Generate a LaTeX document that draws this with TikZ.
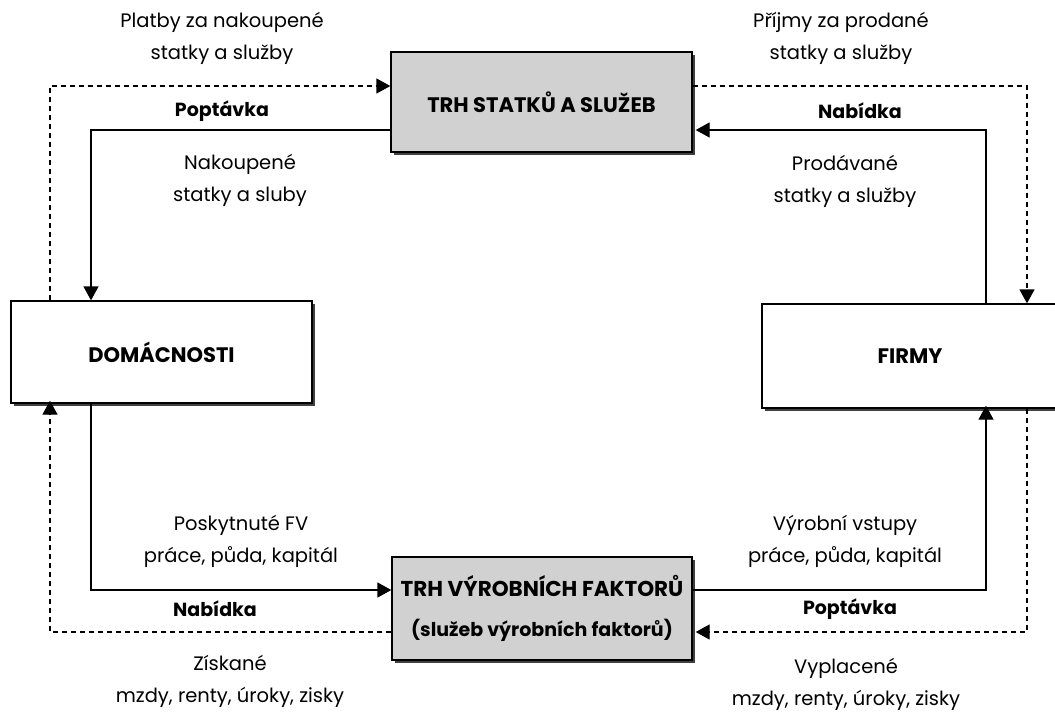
\documentclass[tikz,border=0pt]{standalone}
\usepackage{fontspec}
\setmainfont{Poppins}
\usetikzlibrary{arrows.meta,shadows,calc}
\begin{document}
\begin{tikzpicture}[x=1pt,y=-1pt,
  mbox/.style={draw=black, line width=1.3pt, inner sep=0pt, align=center,
    font=\bfseries\fontsize{21}{40}\selectfont,
    drop shadow={shadow xshift=3pt,shadow yshift=-3pt,fill=black!75,opacity=1}},
  flow/.style={line width=1.3pt, -{Triangle[length=14pt,width=15pt]}},
  money/.style={flow, dash pattern=on 5pt off 4pt},
  lbl/.style={align=center, inner sep=0pt, font=\fontsize{19.5}{32}\selectfont},
  blbl/.style={inner sep=0pt, font=\bfseries\fontsize{19}{22}\selectfont}]
\useasboundingbox (0,0) rectangle (1055,713);
\clip (0,0) rectangle (1055,713);
\fill[white] (0,0) rectangle (1055,713);

% boxes
\node[mbox, fill=black!18, minimum width=301pt, minimum height=100pt] (trhS) at (541.5,102) {TRH STATKŮ A SLUŽEB};
\node[mbox, fill=white, minimum width=301pt, minimum height=102pt] (dom) at (161.5,352) {DOMÁCNOSTI};
\node[mbox, fill=white, minimum width=296pt, minimum height=104pt] (firmy) at (910,356) {FIRMY};
\node[mbox, fill=black!18, minimum width=300pt, minimum height=103pt] (trhF) at (542,608.5) {{\fontsize{21.5}{40}\selectfont TRH VÝROBNÍCH FAKTORŮ}\\{\fontsize{19}{40}\selectfont (služeb výrobních faktorů)}};

% guide coordinates
\coordinate (xLd) at (50,0);
\coordinate (xLs) at (91,0);
\coordinate (xRs) at (986,0);
\coordinate (xRd) at (1027,0);
\coordinate (yTd) at (0,86);
\coordinate (yTs) at (0,130);
\coordinate (yBs) at (0,590);
\coordinate (yBd) at (0,632);

% connectors
\draw[money] (dom.north -| xLd) |- (trhS.west |- yTd);
\draw[flow] (trhS.west |- yTs) -| (dom.north -| xLs);
\draw[money] (trhS.east |- yTd) -| (firmy.north -| xRd);
\draw[flow] (firmy.north -| xRs) |- ([xshift=3pt]trhS.east |- yTs);
\draw[flow] (dom.south -| xLs) |- (trhF.west |- yBs);
\draw[money] (trhF.west |- yBd) -| ([yshift=3pt]dom.south -| xLd);
\draw[flow] (trhF.east |- yBs) -| ([yshift=3pt]firmy.south -| xRs);
\draw[money] (firmy.south -| xRd) |- ([xshift=3pt]trhF.east |- yBd);

% labels
\node[lbl] (l1) at (222,38) {Platby za nakoupené\\statky a služby};
\node[lbl] (l2) at (841,38) {Příjmy za prodané\\statky a služby};
\node[blbl] (l3) at (222,111) {Poptávka};
\node[blbl] (l4) at (860,111) {Nabídka};
\node[lbl] (l5) at (240,180) {Nakoupené\\statky a sluby};
\node[lbl] (l6) at (845,181) {Prodávané\\statky a služby};
\node[lbl] (l7) at (241,541) {Poskytnuté FV\\práce, půda, kapitál};
\node[lbl] (l8) at (845,541) {Výrobní vstupy\\práce, půda, kapitál};
\node[blbl] (l9) at (215,609) {Nabídka};
\node[blbl] (l10) at (850,609) {Poptávka};
\node[lbl] (l11) at (230,681) {Získané\\mzdy, renty, úroky, zisky};
\node[lbl] (l12) at (846,684) {Vyplacené\\mzdy, renty, úroky, zisky};
\end{tikzpicture}
\end{document}
